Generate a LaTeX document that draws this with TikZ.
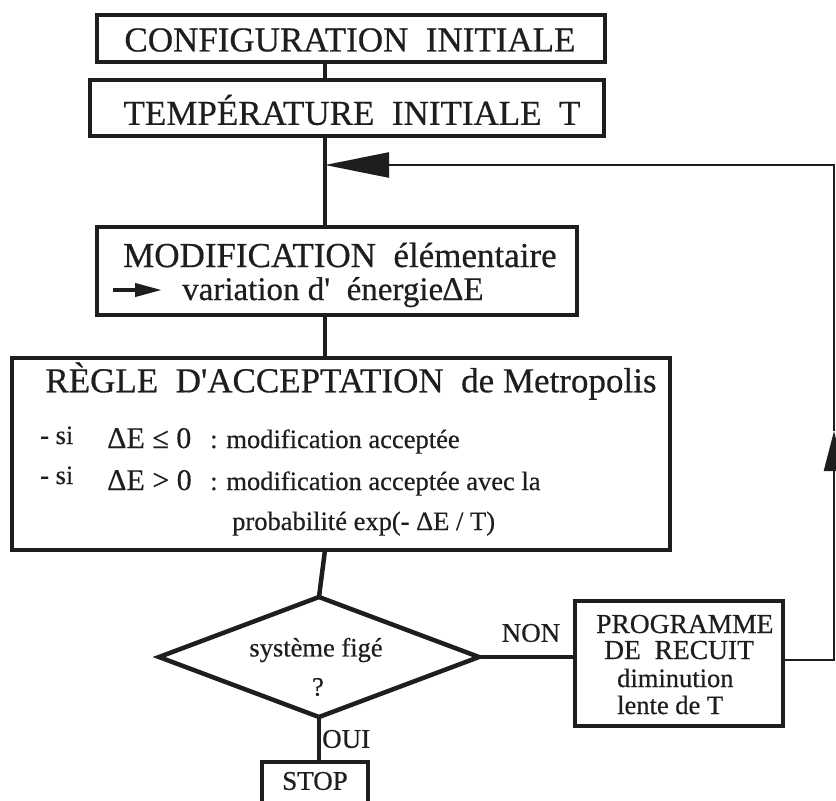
\documentclass[tikz,border=0pt]{standalone}
\usepackage{fontspec}
\setmainfont{Liberation Serif}[Ligatures=TeXOff, FakeBold=0.5]
\usetikzlibrary{shapes.geometric,arrows.meta}
\definecolor{ink}{HTML}{1E1E1E}

\tikzset{
  box/.style={draw=ink, line width=4.5pt, inner sep=0pt, outer sep=0pt, fill=white},
  conn/.style={draw=ink, line width=4.5pt},
  fb/.style={draw=ink, line width=2.4pt},
  txt/.style={inner sep=0pt, text=ink},
  big/.style={txt, font=\fontsize{35}{38}\selectfont},
  mid/.style={txt, font=\fontsize{30}{33}\selectfont},
  small/.style={txt, font=\fontsize{26.5}{29}\selectfont},
  label/.style={txt, font=\fontsize{27}{29}\selectfont},
}

\begin{document}
\begin{tikzpicture}[x=1pt,y=-1pt]
  \clip (0,0) rectangle (836,801);
  \fill[white] (0,0) rectangle (836,801);

  % vertical spine of the flowchart
  \coordinate (spine) at (325,0);

  % boxes
  \node[box, minimum width=508pt, minimum height=47pt] (b1) at (351,38.5) {};
  \node[box, minimum width=514pt, minimum height=56pt] (b2) at (347,108) {};
  \node[box, minimum width=480pt, minimum height=88pt] (b3) at (337,271) {};
  \node[box, minimum width=658pt, minimum height=192pt] (b4) at (341,454) {};
  \node[box, diamond, minimum width=320pt, minimum height=120pt] (dia) at (319,657) {};
  \node[box, minimum width=106pt, minimum height=60pt] (stop) at (315,792) {};
  \node[box, minimum width=208pt, minimum height=125pt] (prog) at (679,663.5) {};

  % main connectors
  \draw[conn] (b1.south -| spine) -- (b2.north -| spine);
  \draw[conn] (b2.south -| spine) -- (b3.north -| spine);
  \draw[conn] (b3.south -| spine) -- (b4.north -| spine);
  \draw[conn] (b4.south -| spine) -- (dia.north);
  \draw[conn] (dia.south) -- (dia.south |- stop.north);
  \draw[conn, line width=4pt] (dia.east) -- (dia.east -| prog.west);

  % feedback loop back to the temperature step
  \coordinate (join) at (325,165);
  \coordinate (corner) at (834,660);
  \coordinate (up) at (834,431);
  \draw[fb, -{Triangle[length=40pt,width=20pt]}] (prog.east |- corner) -- (corner) -- (up);
  \draw[fb, -{Triangle[length=64pt,width=25pt]}] (up) |- (join);

  % box texts
  \node[big] (t1) at (350,40) {CONFIGURATION\ \ INITIALE};
  \node[big] (t2) at (352,110) {TEMPÉRATURE\ \ INITIALE\ \ T};
  % two-line node: anchor sits on the baseline of its last line
  \node[txt, font=\fontsize{35}{33}\selectfont, align=left, anchor=base west] (t3) at (123,300)
    {MODIFICATION\ \ élémentaire\\
     \hspace*{59pt}\fontsize{33}{33}\selectfont variation d'\ \ énergie\kern-1ptΔE};
  \coordinate (a1) at (113,290);
  \coordinate (a2) at (162,290);
  \draw[draw=ink, line width=4pt, -{Triangle[length=27pt,width=13pt]}] (a1) -- (a2);

  \node[big] (t4) at (351,381) {RÈGLE\ \ D'ACCEPTATION\ \ de Metropolis};
  \node[small, anchor=base west] (si1) at (40,444) {- si};
  \node[mid, anchor=base west] (c1) at (107,448) {ΔE ≤ 0};
  \node[small, anchor=base west] (r1) at (210,448) {: modification acceptée};
  \node[small, anchor=base west] (si2) at (40,484) {- si};
  \node[mid, anchor=base west] (c2) at (107,490) {ΔE > 0};
  \node[small, anchor=base west] (r2) at (210,490) {: modification acceptée avec la};
  \node[small, anchor=base west] (r3) at (232,530) {probabilité exp(- ΔE / T)};

  % decision
  \node[small] (q1) at (316,650) {système figé};
  \node[small] (q2) at (318,687) {?};
  \node[label] (non) at (531,633) {NON};
  \node[label, anchor=west] (oui) at (322,739) {OUI};
  \node[label] (st) at (315,781) {STOP};

  % annealing schedule (anchor on the last baseline)
  \node[txt, font=\fontsize{27.5}{26}\selectfont, align=left, anchor=base west] (p1) at (596,714)
    {PROGRAMME\\
     \hspace*{8pt}DE\ \ RECUIT\\[2pt]
     \hspace*{21pt}\fontsize{26.5}{26}\selectfont diminution\\[1pt]
     \hspace*{21pt}\fontsize{26.5}{26}\selectfont lente de T};
\end{tikzpicture}
\end{document}
